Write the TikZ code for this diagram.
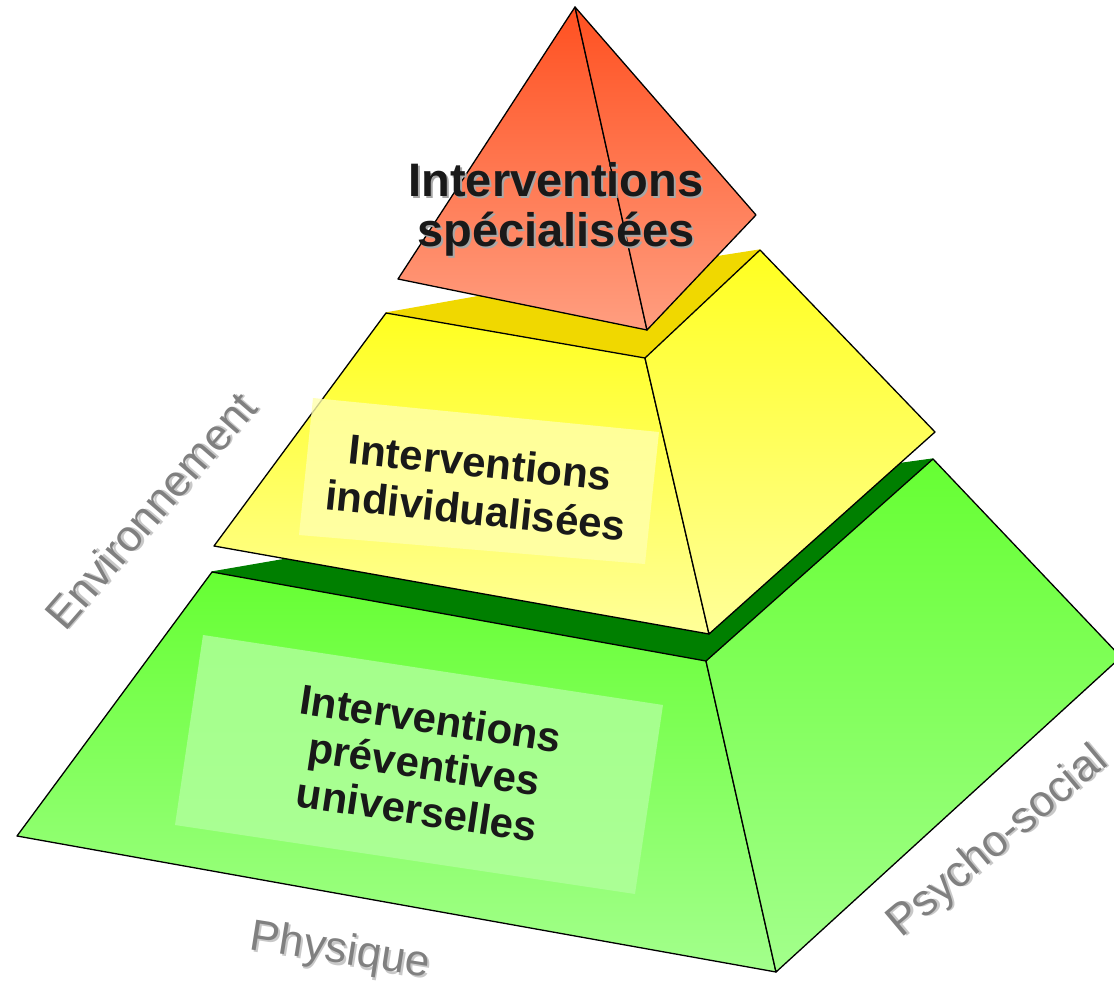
\documentclass[tikz,border=0pt]{standalone}
\usepackage{fontspec}
\setmainfont{Liberation Sans}
\usepackage{xcolor}
\definecolor{apexTop}{HTML}{FF5020}
\definecolor{apexBottom}{HTML}{FF9E80}
\definecolor{midTop}{HTML}{FFFF20}
\definecolor{midBottom}{HTML}{FFFF99}
\definecolor{midLid}{HTML}{F0D800}
\definecolor{baseTop}{HTML}{66FF33}
\definecolor{baseBottom}{HTML}{A3FF8C}
\definecolor{baseLid}{HTML}{007F00}
\definecolor{labelGray}{HTML}{808080}
\definecolor{shadowGray}{HTML}{C8C8C8}

\newcommand{\shadowtext}[2]{%
  \makebox[0pt][l]{\raisebox{-2pt}{\hspace{2pt}\textcolor{#1}{#2}}}#2}

\begin{document}
\begin{tikzpicture}[x=1pt, y=-1pt, line join=round,
    face/.style={draw=black, line width=1.3pt},
    panel/.style={opacity=0.8},
    title/.style={align=center, font=\fontsize{42}{48}\selectfont\bfseries, text=black!90},
    axislabel/.style={font=\fontsize{44}{50}\selectfont, text=labelGray}]
    \useasboundingbox (0,0) rectangle (1114,987);
    \clip (0,0) rectangle (1114,987);

    % Base level
    \coordinate (GL1) at (212,572);
    \coordinate (GF1) at (706,661);
    \coordinate (GR1) at (933,459);
    \coordinate (GB) at (600,505);
    \coordinate (GL2) at (17,836);
    \coordinate (GF2) at (776,972);
    \coordinate (GR2) at (1121,657);
    \fill[face, baseLid] (GL1) -- (GB) -- (GR1) -- (GF1) -- cycle;
    \shade[face, top color=baseTop, bottom color=baseBottom] (GL1) -- (GL2) -- (GF2) -- (GF1) -- cycle;
    \shade[face, top color=baseTop, bottom color=baseBottom] (GF1) -- (GR1) -- (GR2) -- (GF2) -- cycle;
    \fill[panel, fill=baseBottom!85!white] (203,635) -- (663,705) -- (635,894) -- (175,825) -- cycle;

    % Middle level
    \coordinate (YL1) at (386,313);
    \coordinate (YF1) at (645,358);
    \coordinate (YR1) at (760,250);
    \coordinate (YB) at (600,275);
    \coordinate (YL2) at (214,546);
    \coordinate (YF2) at (709,634);
    \coordinate (YR2) at (935,432);
    \fill[face, midLid] (YL1) -- (YB) -- (YR1) -- (YF1) -- cycle;
    \shade[face, top color=midTop, bottom color=midBottom] (YL1) -- (YL2) -- (YF2) -- (YF1) -- cycle;
    \shade[face, top color=midTop, bottom color=midBottom] (YF1) -- (YR1) -- (YR2) -- (YF2) -- cycle;
    \fill[panel, fill=midBottom!80!white] (313,398) -- (659,432) -- (645,564) -- (299,535) -- cycle;

    % Top level
    \coordinate (RA) at (575,7);
    \coordinate (RL) at (398,279);
    \coordinate (RF) at (647,330);
    \coordinate (RR) at (756,215);
    \shade[face, top color=apexTop, bottom color=apexBottom] (RA) -- (RL) -- (RF) -- cycle;
    \shade[face, top color=apexTop, bottom color=apexBottom] (RA) -- (RF) -- (RR) -- cycle;

    % Texts
    \node[title, font=\fontsize{47}{50}\selectfont\bfseries] (special) at (556,210) {\shadowtext{black!35}{Interventions}\\\shadowtext{black!35}{spécialisées}};
    \node[title, rotate=-6] (individual) at (478,486) {Interventions\\individualisées};
    \node[title, rotate=-8.5, font=\fontsize{42}{46}\selectfont\bfseries] (universal) at (424,764) {Interventions\\préventives\\universelles};

    \node[axislabel, rotate=49] (environment) at (151,511) {\shadowtext{shadowGray}{Environnement}};
    \node[axislabel, rotate=-9] (physical) at (340,953) {\shadowtext{shadowGray}{Physique}};
    \node[axislabel, rotate=40] (psychosocial) at (999,843) {\shadowtext{shadowGray}{Psycho-social}};
\end{tikzpicture}
\end{document}
